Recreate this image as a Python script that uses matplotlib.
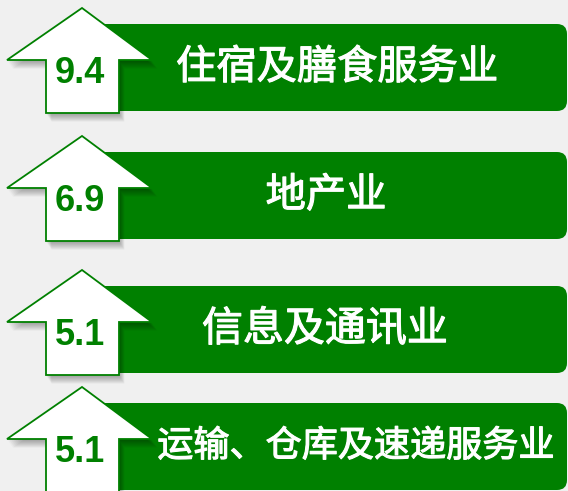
import matplotlib

matplotlib.use("Agg")
import matplotlib.patheffects as pe
import matplotlib.pyplot as plt
from matplotlib.patches import FancyBboxPatch, Polygon

plt.rcParams["font.family"] = ["Noto Sans CJK SC", "DejaVu Sans"]

values = ["9.4", "6.9", "5.1", "5.1"]
labels = ["住宿及膳食服务业", "地产业", "信息及通讯业", "运输、仓库及速递服务业"]

# layout in pixels (y grows downwards)
bar_tops = [24, 152, 286, 403]
bar_height = 87
label_x = [337, 326, 325, 356]
label_size = [29, 29, 29.5, 26]

GREEN = "#008000"
BG = "#f0f0f0"


def arrow_points(top, dx=0.0, dy=0.0):
    pts = [
        (82, top - 16),
        (152, top + 36),
        (119, top + 36),
        (119, top + 89),
        (46, top + 89),
        (46, top + 36),
        (7, top + 36),
    ]
    return [(x + dx, y + dy) for x, y in pts]


fig = plt.figure(figsize=(5.68, 4.91), dpi=100)
fig.set_facecolor(BG)
ax = fig.add_axes([0, 0, 1, 1])
ax.set_facecolor(BG)
ax.set_xlim(0, 568)
ax.set_ylim(491, 0)
ax.axis("off")

for i, top in enumerate(bar_tops):
    bar = FancyBboxPatch(
        (92, top),
        567 - 92,
        bar_height,
        boxstyle="round,pad=0,rounding_size=10",
        facecolor=GREEN,
        edgecolor="none",
        zorder=1,
    )
    ax.add_patch(bar)

    # soft shadow under the arrow
    for k in range(8):
        shadow = Polygon(
            arrow_points(top, 0.5 + k * 0.7, 1.5 + k * 1.0),
            closed=True,
            facecolor="black",
            edgecolor="none",
            alpha=0.045,
            zorder=2,
        )
        ax.add_patch(shadow)

    arrow = Polygon(
        arrow_points(top),
        closed=True,
        facecolor="white",
        edgecolor=GREEN,
        linewidth=1.3,
        joinstyle="miter",
        zorder=3,
    )
    ax.add_patch(arrow)

    ax.text(
        80,
        top + 49.5,
        values[i],
        ha="center",
        va="center",
        color=GREEN,
        fontsize=26,
        fontweight="bold",
        family=["Liberation Sans", "DejaVu Sans"],
        zorder=4,
    )

    ax.text(
        label_x[i],
        top + bar_height / 2,
        labels[i],
        ha="center",
        va="center",
        color="white",
        fontsize=label_size[i],
        path_effects=[pe.withStroke(linewidth=0.8, foreground="white")],
        zorder=4,
    )

plt.savefig("out.png", dpi=100, facecolor=BG)
